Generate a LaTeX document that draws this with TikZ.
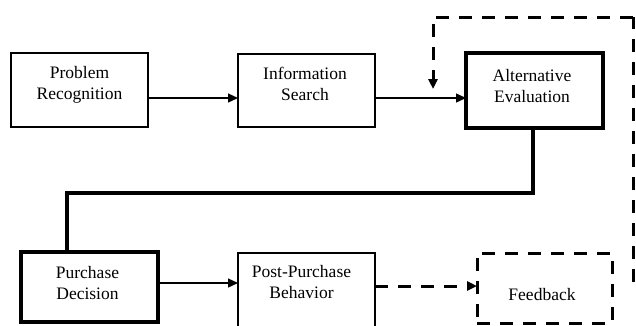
\documentclass[tikz,border=0pt]{standalone}
\usepackage{fontspec}
\setmainfont{Liberation Serif}
\usetikzlibrary{arrows.meta}
\tikzset{
  box/.style={draw, line width=1.4pt, inner sep=0pt, outer sep=0pt},
  thickbox/.style={draw, line width=3.4pt, inner sep=0pt, outer sep=0pt},
  dashbox/.style={draw, line width=3pt, dash pattern=on 13pt off 10pt, inner sep=0pt, outer sep=0pt},
  txt/.style={font=\fontsize{17.5}{21}\selectfont, align=center, inner sep=0pt},
  arr/.style={line width=1.3pt, -{Triangle[length=10pt,width=9pt]}},
  thickline/.style={line width=3.4pt, line join=miter},
  dasharr/.style={line width=3pt, dash pattern=on 13pt off 10pt, -{Triangle[length=10pt,width=9pt]}},
}
\begin{document}
\begin{tikzpicture}[x=1pt,y=-1pt]
\useasboundingbox (0,0) rectangle (636,325);
% boxes
\node[box, minimum width=137pt, minimum height=74pt] (pr) at (79.5,90) {};
\node[box, minimum width=137pt, minimum height=73pt] (is) at (306.5,90.5) {};
\node[thickbox, minimum width=137pt, minimum height=75pt] (ae) at (534.5,90.5) {};
\node[thickbox, minimum width=137pt, minimum height=70pt] (pd) at (89.5,287) {};
\node[box, minimum width=137pt, minimum height=76pt] (ppb) at (306.5,291) {};
\node[dashbox, minimum width=135pt, minimum height=70pt] (fb) at (544.5,288) {};
% texts
\node[txt] (tpr) at (79.5,84.8) {\strut Problem\\\strut Recognition};
\node[txt] (tis) at (305,85.3) {\strut Information\\\strut Search};
\node[txt] (tae) at (532,87.8) {\strut Alternative\\\strut Evaluation};
\node[txt] (tpd) at (87.5,284.3) {\strut Purchase\\\strut Decision};
\node[txt] (tppb) at (301.5,283.8) {\strut Post-Purchase\\\strut Behavior};
\node[txt] (tfb) at (542,295.8) {\strut Feedback};
% connectors
\draw[arr] ([yshift=-8pt]pr.east) -- ([yshift=-8pt]pr.east -| is.west);
\draw[arr] ([yshift=-7.5pt]is.east) -- ([yshift=-7.5pt]is.east -| ae.west);
\coordinate (aedown) at ([xshift=-1.5pt]ae.south);
\coordinate (pdup) at ([xshift=-22.5pt]pd.north);
\coordinate (bendright) at (aedown |- 0,193);
\draw[thickline] (aedown) -- (bendright) -| (pdup);
\draw[arr] ([yshift=4pt]pd.east) -- ([yshift=4pt]pd.east -| ppb.west);
\draw[dasharr] ([yshift=5pt]ppb.east) -- ([yshift=5pt]ppb.east -| fb.west);
\coordinate (loopstart) at (633,282);
\coordinate (loopcorner) at (633,17);
\coordinate (looptip) at (433,89);
\draw[line width=3pt, dash pattern=on 13pt off 10pt] (loopstart) -- (loopcorner);
\draw[dasharr] (loopcorner) -| (looptip);
\end{tikzpicture}
\end{document}
